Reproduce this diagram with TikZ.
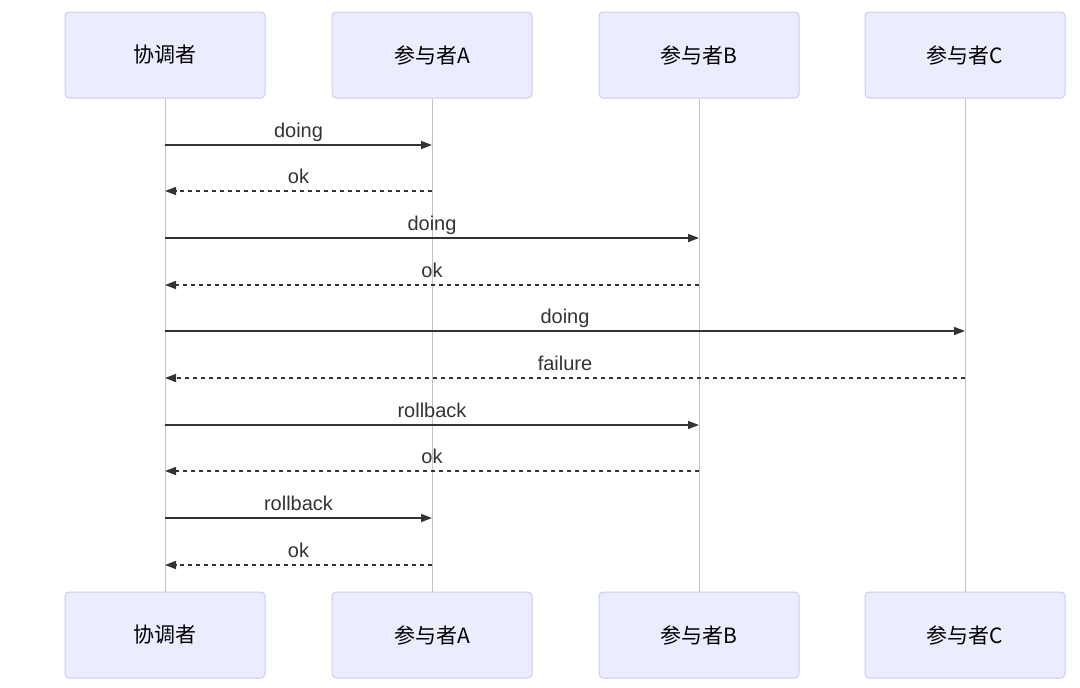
\documentclass[tikz,border=0pt]{standalone}
\usepackage{fontspec}
\setmainfont{Liberation Sans}
\newfontfamily\cjk{Noto Sans CJK SC}
\usetikzlibrary{arrows.meta}
\definecolor{boxfill}{HTML}{ECECFF}
\definecolor{boxdraw}{HTML}{CCCCF2}
\definecolor{lifecol}{HTML}{C4C4C4}
\definecolor{msgcol}{HTML}{333333}
\tikzset{
  actor/.style={draw=boxdraw, fill=boxfill, line width=1pt, rounded corners=4pt,
    minimum width=200pt, minimum height=86pt, inner sep=0pt,
    font=\cjk\fontsize{21}{25}\selectfont, text=black},
  lifeline/.style={draw=lifecol, line width=1pt},
  msg/.style={draw=msgcol, line width=1.6pt, -{Triangle[length=11pt,width=8pt]}},
  reply/.style={msg, dash pattern=on 4pt off 4pt},
  lbl/.style={font=\fontsize{20}{24}\selectfont, text=msgcol, inner sep=0pt, anchor=base, yshift=8pt}
}
\begin{document}
\begin{tikzpicture}[x=1pt,y=-1pt]
\useasboundingbox (0,0) rectangle (1080,688);
% actors
\foreach \n/\x/\t in {c/165/协调者, a/432/参与者A, b/699/参与者B, d/965/参与者C}{
  \node[actor] (\n top) at (\x,55) {\t};
  \node[actor] (\n bot) at (\x,635) {\t};
  \draw[lifeline] (\n top.south) -- (\n bot.north);
}
% message coordinates
\foreach \n/\x in {c/165, a/432, b/699, d/965}{
  \foreach \i/\y in {1/145,2/191,3/238,4/285,5/331,6/378,7/425,8/471,9/518,10/565}{
    \coordinate (\n\i) at (\x,\y);
  }
}
\draw[msg] (c1) -- node[lbl] (l1) {doing} (a1);
\draw[reply] (a2) -- node[lbl] (l2) {ok} (c2);
\draw[msg] (c3) -- node[lbl] (l3) {doing} (b3);
\draw[reply] (b4) -- node[lbl] (l4) {ok} (c4);
\draw[msg] (c5) -- node[lbl] (l5) {doing} (d5);
\draw[reply] (d6) -- node[lbl] (l6) {failure} (c6);
\draw[msg] (c7) -- node[lbl] (l7) {rollback} (b7);
\draw[reply] (b8) -- node[lbl] (l8) {ok} (c8);
\draw[msg] (c9) -- node[lbl] (l9) {rollback} (a9);
\draw[reply] (a10) -- node[lbl] (l10) {ok} (c10);
\end{tikzpicture}
\end{document}
